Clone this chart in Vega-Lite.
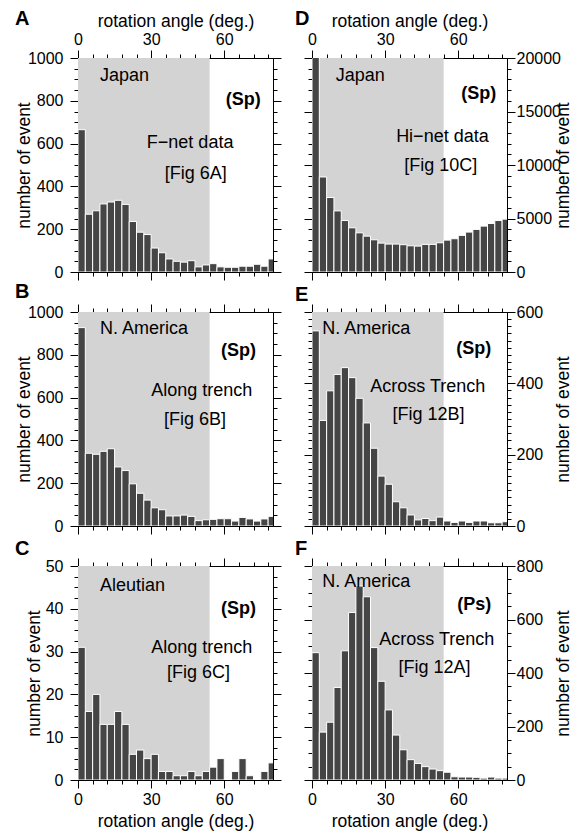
{
  "$schema": "https://vega.github.io/schema/vega-lite/v6.json",
  "background": "white",
  "padding": {"left": 14, "top": 8, "right": 5, "bottom": 5},
  "bounds": "flush",
  "spacing": {"row": 40, "column": 39},
  "columns": 2,
  "datasets": {
    "hist": [
      {"panel": "A", "a0": 0, "a1": 3, "n": 665}, {"panel": "A", "a0": 3, "a1": 6, "n": 270}, {"panel": "A", "a0": 6, "a1": 9, "n": 286}, {"panel": "A", "a0": 9, "a1": 12, "n": 318}, {"panel": "A", "a0": 12, "a1": 15, "n": 327}, {"panel": "A", "a0": 15, "a1": 18, "n": 335}, {"panel": "A", "a0": 18, "a1": 21, "n": 316}, {"panel": "A", "a0": 21, "a1": 24, "n": 236}, {"panel": "A", "a0": 24, "a1": 27, "n": 186}, {"panel": "A", "a0": 27, "a1": 30, "n": 175}, {"panel": "A", "a0": 30, "a1": 33, "n": 112}, {"panel": "A", "a0": 33, "a1": 36, "n": 90}, {"panel": "A", "a0": 36, "a1": 39, "n": 61}, {"panel": "A", "a0": 39, "a1": 42, "n": 50}, {"panel": "A", "a0": 42, "a1": 45, "n": 46}, {"panel": "A", "a0": 45, "a1": 48, "n": 53}, {"panel": "A", "a0": 48, "a1": 51, "n": 24}, {"panel": "A", "a0": 51, "a1": 54, "n": 33}, {"panel": "A", "a0": 54, "a1": 57, "n": 39}, {"panel": "A", "a0": 57, "a1": 60, "n": 24}, {"panel": "A", "a0": 60, "a1": 63, "n": 22}, {"panel": "A", "a0": 63, "a1": 66, "n": 22}, {"panel": "A", "a0": 66, "a1": 69, "n": 27}, {"panel": "A", "a0": 69, "a1": 72, "n": 27}, {"panel": "A", "a0": 72, "a1": 75, "n": 36}, {"panel": "A", "a0": 75, "a1": 78, "n": 27}, {"panel": "A", "a0": 78, "a1": 81, "n": 61},
      {"panel": "D", "a0": 0, "a1": 3, "n": 21000}, {"panel": "D", "a0": 3, "a1": 6, "n": 8880}, {"panel": "D", "a0": 6, "a1": 9, "n": 6960}, {"panel": "D", "a0": 9, "a1": 12, "n": 5710}, {"panel": "D", "a0": 12, "a1": 15, "n": 4810}, {"panel": "D", "a0": 15, "a1": 18, "n": 4130}, {"panel": "D", "a0": 18, "a1": 21, "n": 3660}, {"panel": "D", "a0": 21, "a1": 24, "n": 3350}, {"panel": "D", "a0": 24, "a1": 27, "n": 3010}, {"panel": "D", "a0": 27, "a1": 30, "n": 2700}, {"panel": "D", "a0": 30, "a1": 33, "n": 2610}, {"panel": "D", "a0": 33, "a1": 36, "n": 2610}, {"panel": "D", "a0": 36, "a1": 39, "n": 2550}, {"panel": "D", "a0": 39, "a1": 42, "n": 2450}, {"panel": "D", "a0": 42, "a1": 45, "n": 2420}, {"panel": "D", "a0": 45, "a1": 48, "n": 2580}, {"panel": "D", "a0": 48, "a1": 51, "n": 2580}, {"panel": "D", "a0": 51, "a1": 54, "n": 2730}, {"panel": "D", "a0": 54, "a1": 57, "n": 2980}, {"panel": "D", "a0": 57, "a1": 60, "n": 3110}, {"panel": "D", "a0": 60, "a1": 63, "n": 3420}, {"panel": "D", "a0": 63, "a1": 66, "n": 3730}, {"panel": "D", "a0": 66, "a1": 69, "n": 3980}, {"panel": "D", "a0": 69, "a1": 72, "n": 4290}, {"panel": "D", "a0": 72, "a1": 75, "n": 4530}, {"panel": "D", "a0": 75, "a1": 78, "n": 4810}, {"panel": "D", "a0": 78, "a1": 81, "n": 4940},
      {"panel": "B", "a0": 0, "a1": 3, "n": 927}, {"panel": "B", "a0": 3, "a1": 6, "n": 340}, {"panel": "B", "a0": 6, "a1": 9, "n": 335}, {"panel": "B", "a0": 9, "a1": 12, "n": 349}, {"panel": "B", "a0": 12, "a1": 15, "n": 361}, {"panel": "B", "a0": 15, "a1": 18, "n": 276}, {"panel": "B", "a0": 18, "a1": 21, "n": 259}, {"panel": "B", "a0": 21, "a1": 24, "n": 197}, {"panel": "B", "a0": 24, "a1": 27, "n": 153}, {"panel": "B", "a0": 27, "a1": 30, "n": 121}, {"panel": "B", "a0": 30, "a1": 33, "n": 85}, {"panel": "B", "a0": 33, "a1": 36, "n": 76}, {"panel": "B", "a0": 36, "a1": 39, "n": 47}, {"panel": "B", "a0": 39, "a1": 42, "n": 47}, {"panel": "B", "a0": 42, "a1": 45, "n": 51}, {"panel": "B", "a0": 45, "a1": 48, "n": 45}, {"panel": "B", "a0": 48, "a1": 51, "n": 25}, {"panel": "B", "a0": 51, "a1": 54, "n": 29}, {"panel": "B", "a0": 54, "a1": 57, "n": 31}, {"panel": "B", "a0": 57, "a1": 60, "n": 34}, {"panel": "B", "a0": 60, "a1": 63, "n": 34}, {"panel": "B", "a0": 63, "a1": 66, "n": 23}, {"panel": "B", "a0": 66, "a1": 69, "n": 40}, {"panel": "B", "a0": 69, "a1": 72, "n": 33}, {"panel": "B", "a0": 72, "a1": 75, "n": 23}, {"panel": "B", "a0": 75, "a1": 78, "n": 33}, {"panel": "B", "a0": 78, "a1": 81, "n": 45},
      {"panel": "E", "a0": 0, "a1": 3, "n": 547}, {"panel": "E", "a0": 3, "a1": 6, "n": 296}, {"panel": "E", "a0": 6, "a1": 9, "n": 379}, {"panel": "E", "a0": 9, "a1": 12, "n": 425}, {"panel": "E", "a0": 12, "a1": 15, "n": 444}, {"panel": "E", "a0": 15, "a1": 18, "n": 416}, {"panel": "E", "a0": 18, "a1": 21, "n": 358}, {"panel": "E", "a0": 21, "a1": 24, "n": 289}, {"panel": "E", "a0": 24, "a1": 27, "n": 218}, {"panel": "E", "a0": 27, "a1": 30, "n": 140}, {"panel": "E", "a0": 30, "a1": 33, "n": 117}, {"panel": "E", "a0": 33, "a1": 36, "n": 68}, {"panel": "E", "a0": 36, "a1": 39, "n": 51}, {"panel": "E", "a0": 39, "a1": 42, "n": 31}, {"panel": "E", "a0": 42, "a1": 45, "n": 17}, {"panel": "E", "a0": 45, "a1": 48, "n": 21}, {"panel": "E", "a0": 48, "a1": 51, "n": 15}, {"panel": "E", "a0": 51, "a1": 54, "n": 25}, {"panel": "E", "a0": 54, "a1": 57, "n": 14}, {"panel": "E", "a0": 57, "a1": 60, "n": 10}, {"panel": "E", "a0": 60, "a1": 63, "n": 14}, {"panel": "E", "a0": 63, "a1": 66, "n": 10}, {"panel": "E", "a0": 66, "a1": 69, "n": 14}, {"panel": "E", "a0": 69, "a1": 72, "n": 14}, {"panel": "E", "a0": 72, "a1": 75, "n": 9}, {"panel": "E", "a0": 75, "a1": 78, "n": 9}, {"panel": "E", "a0": 78, "a1": 81, "n": 12},
      {"panel": "C", "a0": 0, "a1": 3, "n": 31}, {"panel": "C", "a0": 3, "a1": 6, "n": 16}, {"panel": "C", "a0": 6, "a1": 9, "n": 20}, {"panel": "C", "a0": 9, "a1": 12, "n": 13}, {"panel": "C", "a0": 12, "a1": 15, "n": 13}, {"panel": "C", "a0": 15, "a1": 18, "n": 16}, {"panel": "C", "a0": 18, "a1": 21, "n": 13}, {"panel": "C", "a0": 21, "a1": 24, "n": 6}, {"panel": "C", "a0": 24, "a1": 27, "n": 7}, {"panel": "C", "a0": 27, "a1": 30, "n": 5}, {"panel": "C", "a0": 30, "a1": 33, "n": 6}, {"panel": "C", "a0": 33, "a1": 36, "n": 2}, {"panel": "C", "a0": 36, "a1": 39, "n": 2}, {"panel": "C", "a0": 39, "a1": 42, "n": 1}, {"panel": "C", "a0": 42, "a1": 45, "n": 1}, {"panel": "C", "a0": 45, "a1": 48, "n": 2}, {"panel": "C", "a0": 48, "a1": 51, "n": 1}, {"panel": "C", "a0": 51, "a1": 54, "n": 2}, {"panel": "C", "a0": 54, "a1": 57, "n": 3}, {"panel": "C", "a0": 57, "a1": 60, "n": 5}, {"panel": "C", "a0": 60, "a1": 63, "n": 0}, {"panel": "C", "a0": 63, "a1": 66, "n": 2}, {"panel": "C", "a0": 66, "a1": 69, "n": 5}, {"panel": "C", "a0": 69, "a1": 72, "n": 1}, {"panel": "C", "a0": 72, "a1": 75, "n": 0}, {"panel": "C", "a0": 75, "a1": 78, "n": 2}, {"panel": "C", "a0": 78, "a1": 81, "n": 4},
      {"panel": "F", "a0": 0, "a1": 3, "n": 476}, {"panel": "F", "a0": 3, "a1": 6, "n": 179}, {"panel": "F", "a0": 6, "a1": 9, "n": 216}, {"panel": "F", "a0": 9, "a1": 12, "n": 346}, {"panel": "F", "a0": 12, "a1": 15, "n": 483}, {"panel": "F", "a0": 15, "a1": 18, "n": 626}, {"panel": "F", "a0": 18, "a1": 21, "n": 725}, {"panel": "F", "a0": 21, "a1": 24, "n": 685}, {"panel": "F", "a0": 24, "a1": 27, "n": 495}, {"panel": "F", "a0": 27, "a1": 30, "n": 369}, {"panel": "F", "a0": 30, "a1": 33, "n": 262}, {"panel": "F", "a0": 33, "a1": 36, "n": 168}, {"panel": "F", "a0": 36, "a1": 39, "n": 113}, {"panel": "F", "a0": 39, "a1": 42, "n": 76}, {"panel": "F", "a0": 42, "a1": 45, "n": 62}, {"panel": "F", "a0": 45, "a1": 48, "n": 50}, {"panel": "F", "a0": 48, "a1": 51, "n": 41}, {"panel": "F", "a0": 51, "a1": 54, "n": 35}, {"panel": "F", "a0": 54, "a1": 57, "n": 29}, {"panel": "F", "a0": 57, "a1": 60, "n": 12}, {"panel": "F", "a0": 60, "a1": 63, "n": 11}, {"panel": "F", "a0": 63, "a1": 66, "n": 11}, {"panel": "F", "a0": 66, "a1": 69, "n": 10}, {"panel": "F", "a0": 69, "a1": 72, "n": 7}, {"panel": "F", "a0": 72, "a1": 75, "n": 11}, {"panel": "F", "a0": 75, "a1": 78, "n": 7}, {"panel": "F", "a0": 78, "a1": 81, "n": 7}
    ]
  },
  "concat": [
    {
      "title": {"text": "A", "dx": -63, "dy": 21},
      "width": 195, "height": 214,
      "resolve": {"axis": {"x": "independent", "y": "independent"}},
      "layer": [
        {"data": {"values": [{}]}, "mark": {"type": "rect", "color": "#d3d3d3"},
         "encoding": {
           "x": {"datum": 0, "type": "quantitative", "scale": {"domain": [0, 80], "nice": false, "zero": false}, "axis": {"orient": "bottom", "values": [0, 30, 60], "tickSize": 8, "labels": false, "title": null}},
           "x2": {"datum": 54},
           "y": {"datum": 0, "type": "quantitative", "scale": {"domain": [0, 1000], "nice": false}, "axis": {"orient": "left", "values": [0, 200, 400, 600, 800, 1000], "tickSize": 8, "labelPadding": 7, "title": "number of event", "titlePadding": -6}},
           "y2": {"datum": 1000}}},
        {"data": {"name": "hist"}, "transform": [{"filter": "datum.panel === 'A'"}],
         "mark": {"type": "rect", "color": "#454545", "stroke": "white", "strokeWidth": 1, "clip": true},
         "encoding": {
           "x": {"field": "a0", "type": "quantitative", "scale": {"domain": [0, 80], "nice": false, "zero": false}, "axis": {"orient": "top", "values": [0, 30, 60], "tickSize": 8, "labelPadding": 3, "title": "rotation angle (deg.)", "titlePadding": 1}},
           "x2": {"field": "a1"},
           "y": {"field": "n", "type": "quantitative", "scale": {"domain": [0, 1000], "nice": false}, "axis": {"orient": "right", "values": [0, 200, 400, 600, 800, 1000], "tickSize": 8, "labels": false, "title": null}},
           "y2": {"datum": 0}}},
        {"data": {"values": [{}]}, "mark": {"type": "text", "text": "Japan", "align": "left", "baseline": "middle", "fontSize": 18},
         "encoding": {"x": {"datum": 9, "type": "quantitative", "scale": {"domain": [0, 80], "nice": false, "zero": false}, "axis": {"orient": "bottom", "values": [6, 12, 18, 24, 36, 42, 48, 54, 66, 72, 78], "tickSize": 4, "labels": false, "domain": false, "title": null}},
           "y": {"datum": 917, "type": "quantitative", "scale": {"domain": [0, 1000], "nice": false}, "axis": {"orient": "left", "values": [50, 100, 150, 250, 300, 350, 450, 500, 550, 650, 700, 750, 850, 900, 950], "tickSize": 4, "labels": false, "domain": false, "title": null}}}},
        {"data": {"values": [{}]}, "mark": {"type": "text", "text": "(Sp)", "align": "right", "baseline": "middle", "fontSize": 18, "fontWeight": "bold"},
         "encoding": {"x": {"datum": 75, "type": "quantitative", "scale": {"domain": [0, 80], "nice": false, "zero": false}, "axis": {"orient": "top", "values": [6, 12, 18, 24, 36, 42, 48, 54, 66, 72, 78], "tickSize": 4, "labels": false, "domain": false, "title": null}},
           "y": {"datum": 804, "type": "quantitative", "scale": {"domain": [0, 1000], "nice": false}, "axis": {"orient": "right", "values": [50, 100, 150, 250, 300, 350, 450, 500, 550, 650, 700, 750, 850, 900, 950], "tickSize": 4, "labels": false, "domain": false, "title": null}}}},
        {"data": {"values": [{}]}, "mark": {"type": "text", "text": "F−net data", "align": "center", "baseline": "middle", "fontSize": 18},
         "encoding": {"x": {"datum": 46, "type": "quantitative", "scale": {"domain": [0, 80], "nice": false, "zero": false}, "axis": null}, "y": {"datum": 604, "type": "quantitative", "scale": {"domain": [0, 1000], "nice": false}, "axis": null}}},
        {"data": {"values": [{}]}, "mark": {"type": "text", "text": "[Fig 6A]", "align": "center", "baseline": "middle", "fontSize": 18},
         "encoding": {"x": {"datum": 48.3, "type": "quantitative", "scale": {"domain": [0, 80], "nice": false, "zero": false}, "axis": null}, "y": {"datum": 460, "type": "quantitative", "scale": {"domain": [0, 1000], "nice": false}, "axis": null}}}
      ]
    },
    {
      "title": {"text": "D", "dx": -17, "dy": 21},
      "width": 195, "height": 214,
      "resolve": {"axis": {"x": "independent", "y": "independent"}},
      "layer": [
        {"data": {"values": [{}]}, "mark": {"type": "rect", "color": "#d3d3d3"},
         "encoding": {
           "x": {"datum": 0, "type": "quantitative", "scale": {"domain": [0, 80], "nice": false, "zero": false}, "axis": {"orient": "bottom", "values": [0, 30, 60], "tickSize": 8, "labels": false, "title": null}},
           "x2": {"datum": 54},
           "y": {"datum": 0, "type": "quantitative", "scale": {"domain": [0, 20000], "nice": false}, "axis": {"orient": "left", "values": [0, 5000, 10000, 15000, 20000], "tickSize": 8, "labels": false, "title": null}},
           "y2": {"datum": 20000}}},
        {"data": {"name": "hist"}, "transform": [{"filter": "datum.panel === 'D'"}],
         "mark": {"type": "rect", "color": "#454545", "stroke": "white", "strokeWidth": 1, "clip": true},
         "encoding": {
           "x": {"field": "a0", "type": "quantitative", "scale": {"domain": [0, 80], "nice": false, "zero": false}, "axis": {"orient": "top", "values": [0, 30, 60], "tickSize": 8, "labelPadding": 3, "title": "rotation angle (deg.)", "titlePadding": 1}},
           "x2": {"field": "a1"},
           "y": {"field": "n", "type": "quantitative", "scale": {"domain": [0, 20000], "nice": false}, "axis": {"orient": "right", "values": [0, 5000, 10000, 15000, 20000], "tickSize": 8, "labelPadding": 1, "title": "number of event", "titleAngle": 270, "titleBaseline": "top", "titlePadding": -6}},
           "y2": {"datum": 0}}},
        {"data": {"values": [{}]}, "mark": {"type": "text", "text": "Japan", "align": "left", "baseline": "middle", "fontSize": 18},
         "encoding": {"x": {"datum": 9.7, "type": "quantitative", "scale": {"domain": [0, 80], "nice": false, "zero": false}, "axis": {"orient": "bottom", "values": [6, 12, 18, 24, 36, 42, 48, 54, 66, 72, 78], "tickSize": 4, "labels": false, "domain": false, "title": null}},
           "y": {"datum": 18340, "type": "quantitative", "scale": {"domain": [0, 20000], "nice": false}, "axis": {"orient": "left", "values": [1000, 2000, 3000, 4000, 6000, 7000, 8000, 9000, 11000, 12000, 13000, 14000, 16000, 17000, 18000, 19000], "tickSize": 4, "labels": false, "domain": false, "title": null}}}},
        {"data": {"values": [{}]}, "mark": {"type": "text", "text": "(Sp)", "align": "right", "baseline": "middle", "fontSize": 18, "fontWeight": "bold"},
         "encoding": {"x": {"datum": 75.6, "type": "quantitative", "scale": {"domain": [0, 80], "nice": false, "zero": false}, "axis": {"orient": "top", "values": [6, 12, 18, 24, 36, 42, 48, 54, 66, 72, 78], "tickSize": 4, "labels": false, "domain": false, "title": null}},
           "y": {"datum": 16620, "type": "quantitative", "scale": {"domain": [0, 20000], "nice": false}, "axis": {"orient": "right", "values": [1000, 2000, 3000, 4000, 6000, 7000, 8000, 9000, 11000, 12000, 13000, 14000, 16000, 17000, 18000, 19000], "tickSize": 4, "labels": false, "domain": false, "title": null}}}},
        {"data": {"values": [{}]}, "mark": {"type": "text", "text": "Hi−net data", "align": "center", "baseline": "middle", "fontSize": 18},
         "encoding": {"x": {"datum": 53.5, "type": "quantitative", "scale": {"domain": [0, 80], "nice": false, "zero": false}, "axis": null}, "y": {"datum": 12580, "type": "quantitative", "scale": {"domain": [0, 20000], "nice": false}, "axis": null}}},
        {"data": {"values": [{}]}, "mark": {"type": "text", "text": "[Fig 10C]", "align": "center", "baseline": "middle", "fontSize": 18},
         "encoding": {"x": {"datum": 52.8, "type": "quantitative", "scale": {"domain": [0, 80], "nice": false, "zero": false}, "axis": null}, "y": {"datum": 9950, "type": "quantitative", "scale": {"domain": [0, 20000], "nice": false}, "axis": null}}}
      ]
    },
    {
      "title": {"text": "B", "dx": -63, "dy": 2},
      "width": 195, "height": 214,
      "resolve": {"axis": {"x": "independent", "y": "independent"}},
      "layer": [
        {"data": {"values": [{}]}, "mark": {"type": "rect", "color": "#d3d3d3"},
         "encoding": {
           "x": {"datum": 0, "type": "quantitative", "scale": {"domain": [0, 80], "nice": false, "zero": false}, "axis": {"orient": "bottom", "values": [0, 30, 60], "tickSize": 8, "labels": false, "title": null}},
           "x2": {"datum": 54},
           "y": {"datum": 0, "type": "quantitative", "scale": {"domain": [0, 1000], "nice": false}, "axis": {"orient": "left", "values": [0, 200, 400, 600, 800, 1000], "tickSize": 8, "labelPadding": 7, "title": "number of event", "titlePadding": -6}},
           "y2": {"datum": 1000}}},
        {"data": {"name": "hist"}, "transform": [{"filter": "datum.panel === 'B'"}],
         "mark": {"type": "rect", "color": "#454545", "stroke": "white", "strokeWidth": 1, "clip": true},
         "encoding": {
           "x": {"field": "a0", "type": "quantitative", "scale": {"domain": [0, 80], "nice": false, "zero": false}, "axis": {"orient": "top", "values": [0, 30, 60], "tickSize": 8, "labels": false, "title": null}},
           "x2": {"field": "a1"},
           "y": {"field": "n", "type": "quantitative", "scale": {"domain": [0, 1000], "nice": false}, "axis": {"orient": "right", "values": [0, 200, 400, 600, 800, 1000], "tickSize": 8, "labels": false, "title": null}},
           "y2": {"datum": 0}}},
        {"data": {"values": [{}]}, "mark": {"type": "text", "text": "N. America", "align": "left", "baseline": "middle", "fontSize": 18},
         "encoding": {"x": {"datum": 9, "type": "quantitative", "scale": {"domain": [0, 80], "nice": false, "zero": false}, "axis": {"orient": "bottom", "values": [6, 12, 18, 24, 36, 42, 48, 54, 66, 72, 78], "tickSize": 4, "labels": false, "domain": false, "title": null}},
           "y": {"datum": 922, "type": "quantitative", "scale": {"domain": [0, 1000], "nice": false}, "axis": {"orient": "left", "values": [50, 100, 150, 250, 300, 350, 450, 500, 550, 650, 700, 750, 850, 900, 950], "tickSize": 4, "labels": false, "domain": false, "title": null}}}},
        {"data": {"values": [{}]}, "mark": {"type": "text", "text": "(Sp)", "align": "right", "baseline": "middle", "fontSize": 18, "fontWeight": "bold"},
         "encoding": {"x": {"datum": 73, "type": "quantitative", "scale": {"domain": [0, 80], "nice": false, "zero": false}, "axis": {"orient": "top", "values": [6, 12, 18, 24, 36, 42, 48, 54, 66, 72, 78], "tickSize": 4, "labels": false, "domain": false, "title": null}},
           "y": {"datum": 817, "type": "quantitative", "scale": {"domain": [0, 1000], "nice": false}, "axis": {"orient": "right", "values": [50, 100, 150, 250, 300, 350, 450, 500, 550, 650, 700, 750, 850, 900, 950], "tickSize": 4, "labels": false, "domain": false, "title": null}}}},
        {"data": {"values": [{}]}, "mark": {"type": "text", "text": "Along trench", "align": "center", "baseline": "middle", "fontSize": 18},
         "encoding": {"x": {"datum": 50.8, "type": "quantitative", "scale": {"domain": [0, 80], "nice": false, "zero": false}, "axis": null}, "y": {"datum": 629, "type": "quantitative", "scale": {"domain": [0, 1000], "nice": false}, "axis": null}}},
        {"data": {"values": [{}]}, "mark": {"type": "text", "text": "[Fig 6B]", "align": "center", "baseline": "middle", "fontSize": 18},
         "encoding": {"x": {"datum": 48, "type": "quantitative", "scale": {"domain": [0, 80], "nice": false, "zero": false}, "axis": null}, "y": {"datum": 495, "type": "quantitative", "scale": {"domain": [0, 1000], "nice": false}, "axis": null}}}
      ]
    },
    {
      "title": {"text": "E", "dx": -17, "dy": 5},
      "width": 195, "height": 214,
      "resolve": {"axis": {"x": "independent", "y": "independent"}},
      "layer": [
        {"data": {"values": [{}]}, "mark": {"type": "rect", "color": "#d3d3d3"},
         "encoding": {
           "x": {"datum": 0, "type": "quantitative", "scale": {"domain": [0, 80], "nice": false, "zero": false}, "axis": {"orient": "bottom", "values": [0, 30, 60], "tickSize": 8, "labels": false, "title": null}},
           "x2": {"datum": 54},
           "y": {"datum": 0, "type": "quantitative", "scale": {"domain": [0, 600], "nice": false}, "axis": {"orient": "left", "values": [0, 200, 400, 600], "tickSize": 8, "labels": false, "title": null}},
           "y2": {"datum": 600}}},
        {"data": {"name": "hist"}, "transform": [{"filter": "datum.panel === 'E'"}],
         "mark": {"type": "rect", "color": "#454545", "stroke": "white", "strokeWidth": 1, "clip": true},
         "encoding": {
           "x": {"field": "a0", "type": "quantitative", "scale": {"domain": [0, 80], "nice": false, "zero": false}, "axis": {"orient": "top", "values": [0, 30, 60], "tickSize": 8, "labels": false, "title": null}},
           "x2": {"field": "a1"},
           "y": {"field": "n", "type": "quantitative", "scale": {"domain": [0, 600], "nice": false}, "axis": {"orient": "right", "values": [0, 200, 400, 600], "tickSize": 8, "labelPadding": 1, "title": "number of event", "titleAngle": 270, "titleBaseline": "top", "titlePadding": 12}},
           "y2": {"datum": 0}}},
        {"data": {"values": [{}]}, "mark": {"type": "text", "text": "N. America", "align": "left", "baseline": "middle", "fontSize": 18},
         "encoding": {"x": {"datum": 4.2, "type": "quantitative", "scale": {"domain": [0, 80], "nice": false, "zero": false}, "axis": {"orient": "bottom", "values": [6, 12, 18, 24, 36, 42, 48, 54, 66, 72, 78], "tickSize": 4, "labels": false, "domain": false, "title": null}},
           "y": {"datum": 553, "type": "quantitative", "scale": {"domain": [0, 600], "nice": false}, "axis": {"orient": "left", "values": [20, 40, 60, 80, 100, 120, 140, 160, 180, 220, 240, 260, 280, 300, 320, 340, 360, 380, 420, 440, 460, 480, 500, 520, 540, 560, 580], "tickSize": 4, "labels": false, "domain": false, "title": null}}}},
        {"data": {"values": [{}]}, "mark": {"type": "text", "text": "(Sp)", "align": "right", "baseline": "middle", "fontSize": 18, "fontWeight": "bold"},
         "encoding": {"x": {"datum": 73.5, "type": "quantitative", "scale": {"domain": [0, 80], "nice": false, "zero": false}, "axis": {"orient": "top", "values": [6, 12, 18, 24, 36, 42, 48, 54, 66, 72, 78], "tickSize": 4, "labels": false, "domain": false, "title": null}},
           "y": {"datum": 497, "type": "quantitative", "scale": {"domain": [0, 600], "nice": false}, "axis": {"orient": "right", "values": [20, 40, 60, 80, 100, 120, 140, 160, 180, 220, 240, 260, 280, 300, 320, 340, 360, 380, 420, 440, 460, 480, 500, 520, 540, 560, 580], "tickSize": 4, "labels": false, "domain": false, "title": null}}}},
        {"data": {"values": [{}]}, "mark": {"type": "text", "text": "Across Trench", "align": "center", "baseline": "middle", "fontSize": 18},
         "encoding": {"x": {"datum": 47.5, "type": "quantitative", "scale": {"domain": [0, 80], "nice": false, "zero": false}, "axis": null}, "y": {"datum": 391, "type": "quantitative", "scale": {"domain": [0, 600], "nice": false}, "axis": null}}},
        {"data": {"values": [{}]}, "mark": {"type": "text", "text": "[Fig 12B]", "align": "center", "baseline": "middle", "fontSize": 18},
         "encoding": {"x": {"datum": 47.8, "type": "quantitative", "scale": {"domain": [0, 80], "nice": false, "zero": false}, "axis": null}, "y": {"datum": 312, "type": "quantitative", "scale": {"domain": [0, 600], "nice": false}, "axis": null}}}
      ]
    },
    {
      "title": {"text": "C", "dx": -63, "dy": 5},
      "width": 195, "height": 214,
      "resolve": {"axis": {"x": "independent", "y": "independent"}},
      "layer": [
        {"data": {"values": [{}]}, "mark": {"type": "rect", "color": "#d3d3d3"},
         "encoding": {
           "x": {"datum": 0, "type": "quantitative", "scale": {"domain": [0, 80], "nice": false, "zero": false}, "axis": {"orient": "bottom", "values": [0, 30, 60], "tickSize": 8, "labelPadding": 3, "title": "rotation angle (deg.)", "titlePadding": 5}},
           "x2": {"datum": 54},
           "y": {"datum": 0, "type": "quantitative", "scale": {"domain": [0, 50], "nice": false}, "axis": {"orient": "left", "values": [0, 10, 20, 30, 40, 50], "tickSize": 8, "labelPadding": 7, "title": "number of event", "titlePadding": 2}},
           "y2": {"datum": 50}}},
        {"data": {"name": "hist"}, "transform": [{"filter": "datum.panel === 'C'"}],
         "mark": {"type": "rect", "color": "#454545", "stroke": "white", "strokeWidth": 1, "clip": true},
         "encoding": {
           "x": {"field": "a0", "type": "quantitative", "scale": {"domain": [0, 80], "nice": false, "zero": false}, "axis": {"orient": "top", "values": [0, 30, 60], "tickSize": 8, "labels": false, "title": null}},
           "x2": {"field": "a1"},
           "y": {"field": "n", "type": "quantitative", "scale": {"domain": [0, 50], "nice": false}, "axis": {"orient": "right", "values": [0, 10, 20, 30, 40, 50], "tickSize": 8, "labels": false, "title": null}},
           "y2": {"datum": 0}}},
        {"data": {"values": [{}]}, "mark": {"type": "text", "text": "Aleutian", "align": "left", "baseline": "middle", "fontSize": 18},
         "encoding": {"x": {"datum": 9, "type": "quantitative", "scale": {"domain": [0, 80], "nice": false, "zero": false}, "axis": {"orient": "bottom", "values": [6, 12, 18, 24, 36, 42, 48, 54, 66, 72, 78], "tickSize": 4, "labels": false, "domain": false, "title": null}},
           "y": {"datum": 45.3, "type": "quantitative", "scale": {"domain": [0, 50], "nice": false}, "axis": {"orient": "left", "values": [2.5, 5, 7.5, 12.5, 15, 17.5, 22.5, 25, 27.5, 32.5, 35, 37.5, 42.5, 45, 47.5], "tickSize": 4, "labels": false, "domain": false, "title": null}}}},
        {"data": {"values": [{}]}, "mark": {"type": "text", "text": "(Sp)", "align": "right", "baseline": "middle", "fontSize": 18, "fontWeight": "bold"},
         "encoding": {"x": {"datum": 73, "type": "quantitative", "scale": {"domain": [0, 80], "nice": false, "zero": false}, "axis": {"orient": "top", "values": [6, 12, 18, 24, 36, 42, 48, 54, 66, 72, 78], "tickSize": 4, "labels": false, "domain": false, "title": null}},
           "y": {"datum": 39.9, "type": "quantitative", "scale": {"domain": [0, 50], "nice": false}, "axis": {"orient": "right", "values": [2.5, 5, 7.5, 12.5, 15, 17.5, 22.5, 25, 27.5, 32.5, 35, 37.5, 42.5, 45, 47.5], "tickSize": 4, "labels": false, "domain": false, "title": null}}}},
        {"data": {"values": [{}]}, "mark": {"type": "text", "text": "Along trench", "align": "center", "baseline": "middle", "fontSize": 18},
         "encoding": {"x": {"datum": 50.8, "type": "quantitative", "scale": {"domain": [0, 80], "nice": false, "zero": false}, "axis": null}, "y": {"datum": 30.8, "type": "quantitative", "scale": {"domain": [0, 50], "nice": false}, "axis": null}}},
        {"data": {"values": [{}]}, "mark": {"type": "text", "text": "[Fig 6C]", "align": "center", "baseline": "middle", "fontSize": 18},
         "encoding": {"x": {"datum": 49.4, "type": "quantitative", "scale": {"domain": [0, 80], "nice": false, "zero": false}, "axis": null}, "y": {"datum": 25, "type": "quantitative", "scale": {"domain": [0, 50], "nice": false}, "axis": null}}}
      ]
    },
    {
      "title": {"text": "F", "dx": -17, "dy": 5},
      "width": 195, "height": 214,
      "resolve": {"axis": {"x": "independent", "y": "independent"}},
      "layer": [
        {"data": {"values": [{}]}, "mark": {"type": "rect", "color": "#d3d3d3"},
         "encoding": {
           "x": {"datum": 0, "type": "quantitative", "scale": {"domain": [0, 80], "nice": false, "zero": false}, "axis": {"orient": "bottom", "values": [0, 30, 60], "tickSize": 8, "labelPadding": 3, "title": "rotation angle (deg.)", "titlePadding": 5}},
           "x2": {"datum": 54},
           "y": {"datum": 0, "type": "quantitative", "scale": {"domain": [0, 800], "nice": false}, "axis": {"orient": "left", "values": [0, 200, 400, 600, 800], "tickSize": 8, "labels": false, "title": null}},
           "y2": {"datum": 800}}},
        {"data": {"name": "hist"}, "transform": [{"filter": "datum.panel === 'F'"}],
         "mark": {"type": "rect", "color": "#454545", "stroke": "white", "strokeWidth": 1, "clip": true},
         "encoding": {
           "x": {"field": "a0", "type": "quantitative", "scale": {"domain": [0, 80], "nice": false, "zero": false}, "axis": {"orient": "top", "values": [0, 30, 60], "tickSize": 8, "labels": false, "title": null}},
           "x2": {"field": "a1"},
           "y": {"field": "n", "type": "quantitative", "scale": {"domain": [0, 800], "nice": false}, "axis": {"orient": "right", "values": [0, 200, 400, 600, 800], "tickSize": 8, "labelPadding": 1, "title": "number of event", "titleAngle": 270, "titleBaseline": "top", "titlePadding": 12}},
           "y2": {"datum": 0}}},
        {"data": {"values": [{}]}, "mark": {"type": "text", "text": "N. America", "align": "left", "baseline": "middle", "fontSize": 18},
         "encoding": {"x": {"datum": 4.2, "type": "quantitative", "scale": {"domain": [0, 80], "nice": false, "zero": false}, "axis": {"orient": "bottom", "values": [6, 12, 18, 24, 36, 42, 48, 54, 66, 72, 78], "tickSize": 4, "labels": false, "domain": false, "title": null}},
           "y": {"datum": 741, "type": "quantitative", "scale": {"domain": [0, 800], "nice": false}, "axis": {"orient": "left", "values": [50, 100, 150, 250, 300, 350, 450, 500, 550, 650, 700, 750], "tickSize": 4, "labels": false, "domain": false, "title": null}}}},
        {"data": {"values": [{}]}, "mark": {"type": "text", "text": "(Ps)", "align": "right", "baseline": "middle", "fontSize": 18, "fontWeight": "bold"},
         "encoding": {"x": {"datum": 73.5, "type": "quantitative", "scale": {"domain": [0, 80], "nice": false, "zero": false}, "axis": {"orient": "top", "values": [6, 12, 18, 24, 36, 42, 48, 54, 66, 72, 78], "tickSize": 4, "labels": false, "domain": false, "title": null}},
           "y": {"datum": 654, "type": "quantitative", "scale": {"domain": [0, 800], "nice": false}, "axis": {"orient": "right", "values": [50, 100, 150, 250, 300, 350, 450, 500, 550, 650, 700, 750], "tickSize": 4, "labels": false, "domain": false, "title": null}}}},
        {"data": {"values": [{}]}, "mark": {"type": "text", "text": "Across Trench", "align": "center", "baseline": "middle", "fontSize": 18},
         "encoding": {"x": {"datum": 51.2, "type": "quantitative", "scale": {"domain": [0, 80], "nice": false, "zero": false}, "axis": null}, "y": {"datum": 525, "type": "quantitative", "scale": {"domain": [0, 800], "nice": false}, "axis": null}}},
        {"data": {"values": [{}]}, "mark": {"type": "text", "text": "[Fig 12A]", "align": "center", "baseline": "middle", "fontSize": 18},
         "encoding": {"x": {"datum": 50.3, "type": "quantitative", "scale": {"domain": [0, 80], "nice": false, "zero": false}, "axis": null}, "y": {"datum": 420, "type": "quantitative", "scale": {"domain": [0, 800], "nice": false}, "axis": null}}}
      ]
    }
  ],
  "config": {
    "font": "Liberation Sans",
    "view": {"stroke": "black", "strokeWidth": 1},
    "text": {"font": "Liberation Sans", "color": "black"},
    "title": {"anchor": "start", "frame": "group", "fontSize": 20, "fontWeight": "bold", "font": "Liberation Sans", "color": "black", "offset": 0},
    "axis": {"labelFont": "Liberation Sans", "labelFontSize": 16, "labelColor": "black", "titleFont": "Liberation Sans", "titleFontSize": 17.5, "titleFontWeight": "normal", "titleColor": "black", "tickColor": "black", "tickWidth": 1, "domainColor": "black", "domainWidth": 1, "grid": false, "labelFlush": false, "labelOverlap": false, "format": "d"}
  }
}
